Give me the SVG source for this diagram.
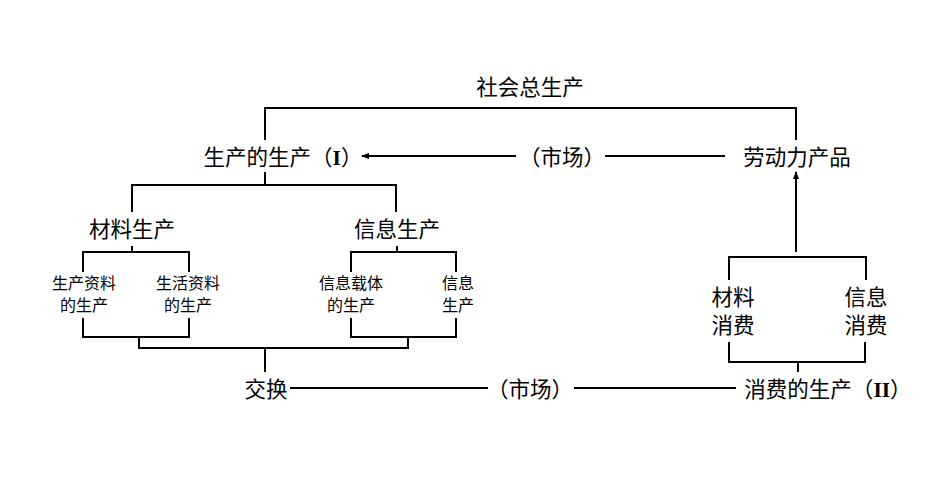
<svg xmlns="http://www.w3.org/2000/svg" width="947" height="480" viewBox="0 0 947 480">
<style>
text{font-family:"Noto Sans CJK SC","Liberation Serif",sans-serif;fill:#000;text-anchor:middle}
.b{font-size:21.5px}.s{font-size:16px}
.l{fill:none;stroke:#000;stroke-width:2}
</style>
<defs><marker id="a" markerWidth="8" markerHeight="8" refX="7" refY="4" orient="auto" markerUnits="userSpaceOnUse"><path d="M0,1 L8,4 L0,7z" fill="#000"/></marker></defs>
<rect width="947" height="480" fill="#fff"/>
<g id="n1"><text class="b" x="530" y="95">社会总生产</text></g>
<g id="n2"><text class="b" x="283" y="165">生产的生产（<tspan font-family="Liberation Serif" font-weight="bold">I</tspan>）</text></g>
<g id="m1"><text class="b" x="562" y="165">（市场）</text></g>
<g id="n3"><text class="b" x="797" y="165">劳动力产品</text></g>
<g id="n4"><text class="b" x="132" y="237">材料生产</text></g>
<g id="n5"><text class="b" x="397" y="237">信息生产</text></g>
<g id="n6"><text class="s" x="84" y="289">生产资料</text><text class="s" x="84" y="311">的生产</text></g>
<g id="n7"><text class="s" x="188" y="289">生活资料</text><text class="s" x="188" y="311">的生产</text></g>
<g id="n8"><text class="s" x="351" y="289">信息载体</text><text class="s" x="351" y="311">的生产</text></g>
<g id="n9"><text class="s" x="458" y="289">信息</text><text class="s" x="458" y="311">生产</text></g>
<g id="n10"><text class="b" x="733" y="305">材料</text><text class="b" x="733" y="333">消费</text></g>
<g id="n11"><text class="b" x="866" y="305">信息</text><text class="b" x="866" y="333">消费</text></g>
<g id="n12"><text class="b" x="266" y="397">交换</text></g>
<g id="m2"><text class="b" x="530" y="397">（市场）</text></g>
<g id="n13"><text class="b" x="828" y="397">消费的生产（<tspan font-family="Liberation Serif" font-weight="bold">II</tspan>）</text></g>
<g id="connectors" class="l">
<path d="M265,140V108H796V140"/>
<path d="M725,156H605M516,156H362" marker-end="url(#a)"/>
<path d="M265,172V185M132,212V185H396V212"/>
<path d="M132,246V252M83,272V252H189V272"/>
<path d="M397,246V252M351,272V252H456V272"/>
<path d="M83,318V337H189V318M351,318V337H456V318"/>
<path d="M139,337V348H408V337M265,348V372"/>
<path d="M290,388H488M574,388H736"/>
<path d="M796,252V172" marker-end="url(#a)"/>
<path d="M729,280V257H866V280"/>
<path d="M729,342V362H865V342M798,362V372"/>
</g>
</svg>
